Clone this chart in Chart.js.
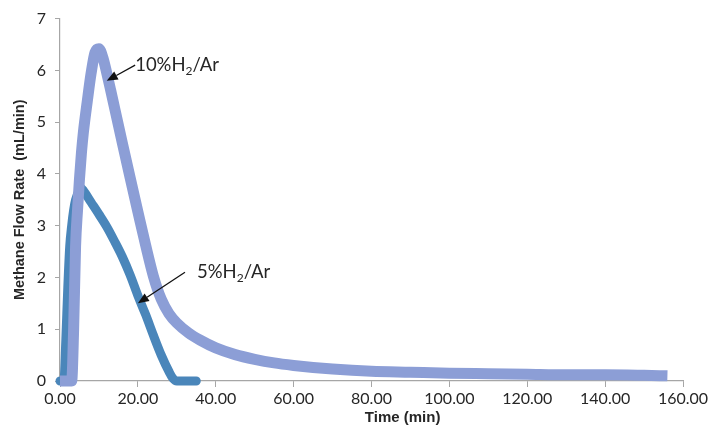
<!DOCTYPE html>
<html>
<head>
<meta charset="utf-8">
<script src="https://cdn.jsdelivr.net/npm/chart.js@4.4.0/dist/chart.umd.min.js"></script>
<style>
  html, body { margin: 0; padding: 0; background: #fff; }
  #wrap { width: 711px; height: 427px; }
</style>
</head>
<body>
<div id="wrap"><canvas id="flowChart" width="711" height="427"></canvas></div>
<script>
// 10% H2/Ar run
const time10 = [0, 2, 3, 3.5, 4, 4.5, 5, 5.5, 6, 7, 8, 9, 10, 11, 12, 13, 14, 16, 18, 20, 22, 24, 26, 28, 30, 33, 36, 40, 45, 50, 55, 60, 65, 70, 80, 90, 100, 110, 120, 130, 140, 150, 156];
const flow10 = [0, 0, 0, 1.0, 2.6, 3.3, 3.9, 4.4, 4.8, 5.4, 5.95, 6.35, 6.42, 6.25, 5.95, 5.62, 5.28, 4.6, 3.93, 3.27, 2.62, 2.02, 1.58, 1.3, 1.12, 0.93, 0.79, 0.64, 0.51, 0.42, 0.35, 0.3, 0.26, 0.23, 0.19, 0.17, 0.15, 0.14, 0.13, 0.12, 0.12, 0.11, 0.1];

// 5% H2/Ar run
const time5 = [0, 1, 1.5, 2, 2.5, 3, 3.5, 4, 5, 5.5, 6, 8, 10, 12, 14, 16, 18, 20, 22, 24, 26, 28, 29, 30, 32, 35];
const flow5 = [0, 0, 0.8, 1.8, 2.6, 3.0, 3.3, 3.5, 3.68, 3.72, 3.68, 3.45, 3.22, 2.98, 2.7, 2.4, 2.05, 1.65, 1.28, 0.88, 0.5, 0.18, 0.05, 0, 0, 0];

const xTicks = [0, 20, 40, 60, 80, 100, 120, 140, 160];
const yTicks = [0, 1, 2, 3, 4, 5, 6, 7];

const axisColor = '#a6a6a6';
const textColor = '#262626';

function toPoints(xs, ys) {
    return xs.map((x, i) => ({ x: x, y: ys[i] }));
}

// text with a subscript "2"
function drawLabel(ctx, x, y, parts) {
    let cx = x;
    parts.forEach(p => {
        ctx.font = p.sub ? '12px Lato' : '18.5px Lato';
        ctx.fillText(p.text, cx, p.sub ? y + 4 : y);
        cx += ctx.measureText(p.text).width;
    });
}

function drawArrow(ctx, x1, y1, x2, y2) {
    const ang = Math.atan2(y2 - y1, x2 - x1);
    const len = 11, half = 4.5;
    const bx = x2 - len * Math.cos(ang), by = y2 - len * Math.sin(ang);
    ctx.beginPath();
    ctx.moveTo(x1, y1);
    ctx.lineTo(bx, by);
    ctx.lineWidth = 1.3;
    ctx.strokeStyle = '#111';
    ctx.stroke();
    ctx.beginPath();
    ctx.moveTo(x2, y2);
    ctx.lineTo(bx + half * Math.sin(ang), by - half * Math.cos(ang));
    ctx.lineTo(bx - half * Math.sin(ang), by + half * Math.cos(ang));
    ctx.closePath();
    ctx.fillStyle = '#111';
    ctx.fill();
}

const notes = {
    id: 'notes',
    afterDatasetsDraw(chart) {
        const ctx = chart.ctx;
        const xs = chart.scales.x, ys = chart.scales.y;
        const px = v => xs.getPixelForValue(v);
        const py = v => ys.getPixelForValue(v);
        ctx.save();
        ctx.textBaseline = 'alphabetic';
        ctx.textAlign = 'left';

        drawArrow(ctx, px(19.3), py(6.1), px(12.0), py(5.8));
        ctx.fillStyle = textColor;
        drawLabel(ctx, px(19.3), py(5.98), [{ text: '10%H' }, { text: '2', sub: true }, { text: '/Ar' }]);

        drawArrow(ctx, px(32.1), py(2.1), px(20.0), py(1.5));
        ctx.fillStyle = textColor;
        drawLabel(ctx, px(35.2), py(1.99), [{ text: '5%H' }, { text: '2', sub: true }, { text: '/Ar' }]);

        // x axis title
        ctx.font = 'bold 15px "Liberation Sans"';
        ctx.textAlign = 'center';
        ctx.textBaseline = 'middle';
        ctx.fillText('Time (min)', px(88), 418);
        ctx.restore();
    }
};

new Chart(document.getElementById('flowChart'), {
    type: 'line',
    data: {
        datasets: [
            {
                label: '10%H2/Ar',
                data: toPoints(time10, flow10),
                borderColor: '#8c9ed6',
                borderWidth: 11,
                cubicInterpolationMode: 'monotone',
                borderCapStyle: 'butt',
                borderJoinStyle: 'round',
                pointRadius: 0,
                clip: false
            },
            {
                label: '5%H2/Ar',
                data: toPoints(time5, flow5),
                borderColor: '#4a86ba',
                borderWidth: 9,
                cubicInterpolationMode: 'monotone',
                borderCapStyle: 'round',
                borderJoinStyle: 'round',
                pointRadius: 0,
                clip: false
            }
        ]
    },
    options: {
        responsive: false,
        animation: false,
        devicePixelRatio: 1,
        layout: {
            padding: { left: 0, right: 28, top: 15, bottom: 0 }
        },
        plugins: {
            legend: { display: false },
            tooltip: { enabled: false }
        },
        scales: {
            x: {
                type: 'linear',
                min: 0,
                max: 160,
                afterBuildTicks: scale => { scale.ticks = xTicks.map(v => ({ value: v })); },
                afterFit: scale => { scale.height = 46; },
                ticks: {
                    color: textColor,
                    font: { family: 'Lato', size: 16 },
                    padding: 2,
                    maxRotation: 0,
                    callback: v => v.toFixed(2)
                },
                grid: { drawOnChartArea: false, drawTicks: true, tickLength: 6, color: axisColor },
                border: { color: axisColor, width: 1.2 }
            },
            y: {
                min: 0,
                max: 7,
                afterBuildTicks: scale => { scale.ticks = yTicks.map(v => ({ value: v })); },
                afterFit: scale => { scale.width = 60; },
                ticks: {
                    color: textColor,
                    font: { family: 'Lato', size: 16 },
                    padding: 9
                },
                grid: { drawOnChartArea: false, drawTicks: true, tickLength: 5, color: axisColor },
                border: { color: axisColor, width: 1.2 },
                title: {
                    display: true,
                    text: 'Methane Flow Rate  (mL/min)',
                    color: textColor,
                    font: { family: 'Liberation Sans', size: 14.5, weight: 'bold' },
                    padding: { top: 11, bottom: 0 }
                }
            }
        }
    },
    plugins: [notes]
});
</script>
</body>
</html>
